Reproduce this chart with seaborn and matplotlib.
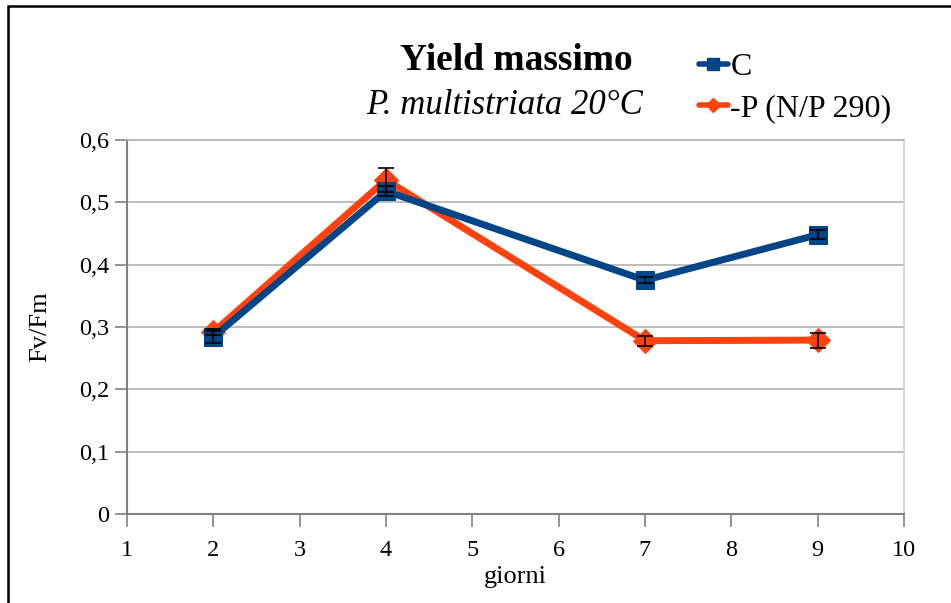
import matplotlib
matplotlib.use("Agg")
import matplotlib.pyplot as plt
import seaborn as sns
import pandas as pd
from matplotlib.patches import Rectangle
from matplotlib.lines import Line2D

# Data
giorni = [2, 4, 7, 9]
c_vals = [0.284, 0.518, 0.375, 0.448]
c_err = [0.010, 0.008, 0.005, 0.007]
p_vals = [0.292, 0.536, 0.278, 0.279]
p_err = [0.005, 0.019, 0.008, 0.012]
series_names = ["C", "-P (N/P 290)"]
x_ticks = [1, 2, 3, 4, 5, 6, 7, 8, 9, 10]
y_ticks = [0, 0.1, 0.2, 0.3, 0.4, 0.5, 0.6]
y_labels = ["0", "0,1", "0,2", "0,3", "0,4", "0,5", "0,6"]

blue = "#004586"
orange = "#ff420e"

sns.set_style("white")
plt.rcParams["font.family"] = ["Liberation Serif", "DejaVu Serif"]
plt.rcParams["text.color"] = "black"
plt.rcParams["axes.labelcolor"] = "black"
plt.rcParams["xtick.labelcolor"] = "black"
plt.rcParams["ytick.labelcolor"] = "black"

fig = plt.figure(figsize=(9.51, 6.03), dpi=100)
ax = fig.add_axes([127/951, 1-514/603, (904-127)/951, (514-140)/603])

df_c = pd.DataFrame({"giorni": giorni, "val": c_vals})
df_p = pd.DataFrame({"giorni": giorni, "val": p_vals})

sns.lineplot(data=df_p, x="giorni", y="val", ax=ax, color=orange, lw=5,
             marker="D", markersize=12, markeredgecolor=orange, zorder=3)
sns.lineplot(data=df_c, x="giorni", y="val", ax=ax, color=blue, lw=5,
             marker="s", markersize=13, markeredgecolor=blue, zorder=4)
ax.errorbar(giorni, p_vals, yerr=p_err, fmt="none", ecolor="black", elinewidth=1.2,
            capsize=5.5, capthick=1.2, zorder=5)
ax.errorbar(giorni, c_vals, yerr=c_err, fmt="none", ecolor="black", elinewidth=1.2,
            capsize=5.5, capthick=1.2, zorder=5)

ax.set_xlim(1, 10)
ax.set_ylim(0, 0.6)
ax.set_xticks(x_ticks)
ax.set_xticklabels([str(t) for t in x_ticks], fontsize=17.5, color="black")
ax.set_yticks(y_ticks)
ax.set_yticklabels(y_labels, fontsize=17.5, color="black")
ax.yaxis.grid(True, color="#b3b3b3", lw=1.2)
ax.set_axisbelow(True)
ax.tick_params(axis="both", direction="out", length=9, width=1.2, color="#808080",
               left=True, bottom=True)
ax.tick_params(axis="x", pad=10)
ax.tick_params(axis="y", pad=4)
for s in ["left", "bottom"]:
    ax.spines[s].set_color("#808080")
    ax.spines[s].set_linewidth(1.5)
ax.spines["right"].set_color("#d0d0d0")
ax.spines["right"].set_linewidth(1.2)
ax.spines["top"].set_color("#b3b3b3")
ax.spines["top"].set_linewidth(1.2)

ax.set_xlabel("giorni", fontsize=19, labelpad=3, color="black")
ax.set_ylabel("Fv/Fm", fontsize=19, labelpad=20, color="black")

fig.text(516/951, 1-61/603, "Yield massimo", fontsize=27, fontweight="bold",
         ha="center", va="center", color="black")
fig.text(504.5/951, 1-105/603, "P. multistriata 20°C", fontsize=25, style="italic",
         ha="center", va="center", color="black")

handles = [Line2D([0], [0], color=blue, lw=4, marker="s", markersize=9),
           Line2D([0], [0], color=orange, lw=4, marker="D", markersize=7)]
leg = fig.legend(handles, series_names, loc="upper left", bbox_to_anchor=(699/951, 1-53/603),
                 frameon=False, fontsize=23, handlelength=0.9, handletextpad=0.08,
                 labelspacing=0.37, borderaxespad=0, borderpad=0)
for t in leg.get_texts():
    t.set_color("black")

fig.patches.append(Rectangle((8/951, -0.1), 2, 1-6/603+0.1, transform=fig.transFigure,
                             fill=False, edgecolor="black", lw=1.8))

fig.savefig("out.png", dpi=100)
